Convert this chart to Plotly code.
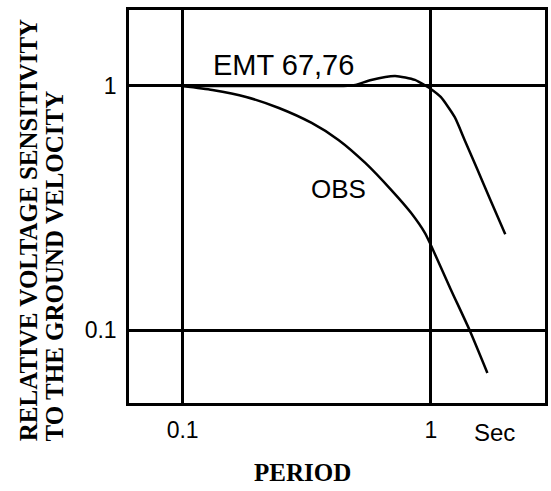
import plotly.graph_objects as go

# ---- data ----
obs_period = [0.1, 0.1318, 0.1803, 0.2443, 0.331, 0.4246, 0.5445, 0.692, 0.832, 0.946,
              1.0, 1.202, 1.432, 1.69]
obs_sens = [1.0, 0.963, 0.901, 0.812, 0.705, 0.601, 0.4835, 0.375, 0.302, 0.25,
            0.223, 0.147, 0.1, 0.0667]

emt_period = [0.1, 0.3, 0.445, 0.497, 0.575, 0.718, 0.863, 0.955, 1.0, 1.096, 1.247,
              1.368, 1.542, 1.738, 1.995]
emt_sens = [1.0, 1.0, 1.0, 1.009, 1.058, 1.099, 1.058, 1.0, 0.972, 0.901, 0.746,
            0.601, 0.453, 0.341, 0.247]

x_tickvals = [0.1, 1]
x_ticktext = ["0.1", "1"]
y_tickvals = [0.1, 1]
y_ticktext = ["0.1", "1"]

SANS = "Liberation Sans, Arial, sans-serif"
SERIF = "Liberation Serif, Times New Roman, serif"

fig = go.Figure()
fig.add_trace(go.Scatter(x=obs_period, y=obs_sens, mode="lines",
                         line=dict(color="black", width=2.5, shape="spline", smoothing=0.6),
                         name="OBS", showlegend=False, hoverinfo="skip"))
fig.add_trace(go.Scatter(x=emt_period, y=emt_sens, mode="lines",
                         line=dict(color="black", width=2.5, shape="spline", smoothing=0.6),
                         name="EMT 67,76", showlegend=False, hoverinfo="skip"))

axis_common = dict(type="log", showline=True, linecolor="black", linewidth=2.5, mirror=True,
                   showgrid=True, gridcolor="black", gridwidth=2.5, zeroline=False,
                   ticks="", tickfont=dict(family=SANS, size=23, color="black"))

fig.update_xaxes(range=[-1.216, 0.46], tickvals=x_tickvals, ticktext=x_ticktext,
                 ticklabelstandoff=5, **axis_common)
fig.update_yaxes(range=[-1.299, 0.311], tickvals=y_tickvals, ticktext=y_ticktext,
                 ticklabelstandoff=5, **axis_common)

ann = [
    dict(text="EMT 67,76", x=0.3705, y=0.86, font=dict(family=SANS, size=29)),
    dict(text="OBS", x=0.5036, y=0.5445, font=dict(family=SANS, size=26)),
    dict(text="Sec", x=0.879, y=-0.0738, font=dict(family=SANS, size=24)),
    dict(text="<b>PERIOD</b>", x=0.418, y=-0.178, font=dict(family=SERIF, size=25)),
]
for a in ann:
    fig.add_annotation(xref="paper", yref="paper", showarrow=False,
                       xanchor="center", yanchor="middle",
                       x=a["x"], y=a["y"], text=a["text"],
                       font=dict(color="black", **a["font"]))

fig.add_annotation(xref="paper", yref="paper", showarrow=False, textangle=-90,
                   xanchor="center", yanchor="bottom", x=-0.2423, y=-0.1018,
                   text="<b>RELATIVE VOLTAGE SENSITIVITY</b>",
                   font=dict(family=SERIF, size=25, color="black"))
fig.add_annotation(xref="paper", yref="paper", showarrow=False, textangle=-90,
                   xanchor="center", yanchor="bottom", x=-0.178, y=-0.1018,
                   text="<b>TO THE GROUND VELOCITY</b>",
                   font=dict(family=SERIF, size=25, color="black"))

fig.update_layout(width=551, height=491, margin=dict(l=129, r=3, t=10, b=88),
                  plot_bgcolor="white", paper_bgcolor="white")

fig.write_html("out.html", config={"displayModeBar": False},
               post_script="document.body.style.margin='0';")
